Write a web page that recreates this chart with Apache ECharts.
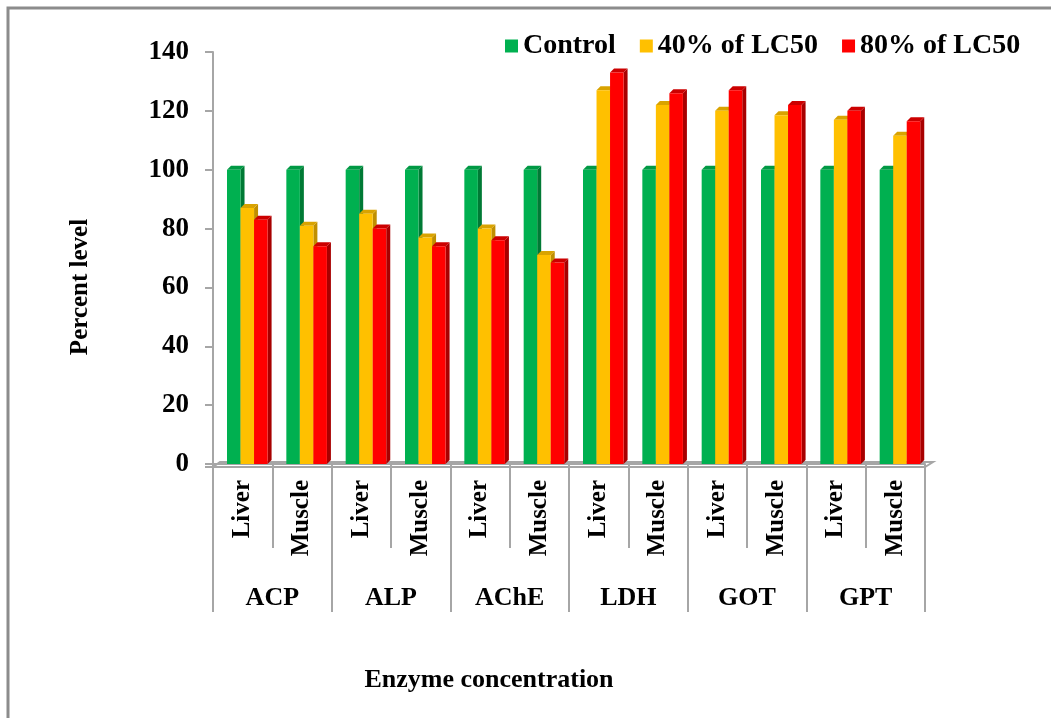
<!DOCTYPE html>
<html>
<head>
<meta charset="utf-8">
<script src="https://cdn.jsdelivr.net/npm/echarts@6/dist/echarts.min.js"></script>
<style>
html,body{margin:0;padding:0;background:#fff;}
#chart{width:1051px;height:718px;}
</style>
</head>
<body>
<div id="chart"></div>
<script>
const categories = ['Liver','Muscle','Liver','Muscle','Liver','Muscle','Liver','Muscle','Liver','Muscle','Liver','Muscle'];
const groups = ['ACP','ALP','AChE','LDH','GOT','GPT'];
const seriesNames = ['Control','40% of LC50','80% of LC50'];
const controlValues = [100,100,100,100,100,100,100,100,100,100,100,100];
const lc40Values = [87,81,85,77,80,71,127,122,120,118.5,117,111.5];
const lc80Values = [83,74,80,74,76,68.5,133,126,127,122,120,116.5];
const yMin = 0, yMax = 140, yStep = 20;

const FONT = 'Liberation Serif';
const palette = [
  {front:'#00B050', side:'#007A35', top:'#009944'},
  {front:'#FFC000', side:'#C08F00', top:'#D9A300'},
  {front:'#FF0000', side:'#A80000', top:'#CC0000'}
];

function makeRender(s){
  const c = palette[s];
  return function(params, api){
    const idx = api.value(0), val = api.value(1);
    const top = api.coord([idx, val]);
    const base = api.coord([idx, 0]);
    const bw = api.size([1, 0])[0];
    const w = bw * 0.228;
    const d = 4;
    const x0 = top[0] - bw / 2 + bw * 0.236 + s * w;
    const yT = top[1], yB = base[1];
    return {
      type: 'group',
      children: [
        {type:'polygon', shape:{points:[[x0+w,yT],[x0+w+d,yT-d],[x0+w+d,yB-d],[x0+w,yB]]}, style:{fill:c.side}},
        {type:'polygon', shape:{points:[[x0,yT],[x0+d,yT-d],[x0+w+d,yT-d],[x0+w,yT]]}, style:{fill:c.top}},
        {type:'rect', shape:{x:x0, y:yT, width:w, height:yB-yT}, style:{fill:c.front}}
      ]
    };
  };
}

const dataSets = [controlValues, lc40Values, lc80Values];
const barSeries = dataSets.map((arr, s) => ({
  name: seriesNames[s],
  type: 'custom',
  xAxisIndex: 0,
  yAxisIndex: 0,
  itemStyle: {color: palette[s].front},
  encode: {x: 0, y: 1},
  data: arr.map((v, i) => [i, v]),
  renderItem: makeRender(s),
  z: 3
}));

const floorSeries = {
  type: 'custom',
  xAxisIndex: 0,
  yAxisIndex: 0,
  silent: true,
  z: 1,
  data: [[0, 0]],
  renderItem: function(params, api){
    const cs = params.coordSys;
    const yb = cs.y + cs.height;
    const x = cs.x, w = cs.width;
    return {
      type: 'polygon',
      shape: {points: [[x-8, yb+3], [x, yb+3], [x+7, yb-2], [x+w+8, yb-2], [x+w, yb+3], [x, yb+3]]},
      style: {fill: 'none', stroke: '#A6A6A6', lineWidth: 2}
    };
  }
};

const chart = echarts.init(document.getElementById('chart'));
chart.setOption({
  backgroundColor: '#fff',
  animation: false,
  legend: {
    data: seriesNames,
    left: 500,
    top: 27,
    icon: 'rect',
    itemWidth: 13,
    itemHeight: 13,
    itemGap: 24,
    textStyle: {fontFamily: FONT, fontWeight: 'bold', fontSize: 28, color: '#000'}
  },
  grid: {left: 213, right: 126, top: 52, bottom: 254, containLabel: false},
  xAxis: [
    {
      type: 'category',
      data: categories,
      position: 'bottom',
      axisLine: {show: true, lineStyle: {color: '#A6A6A6', width: 2}},
      axisTick: {show: true, interval: 0, length: 84, lineStyle: {color: '#A6A6A6', width: 2}},
      axisLabel: {interval: 0, rotate: 90, margin: 16, fontFamily: FONT, fontWeight: 'bold', fontSize: 25, color: '#000'},
      splitLine: {show: false}
    },
    {
      type: 'category',
      data: groups,
      position: 'bottom',
      offset: 0,
      axisLine: {show: false},
      axisTick: {show: true, interval: 0, length: 148, lineStyle: {color: '#A6A6A6', width: 2}},
      axisLabel: {interval: 0, margin: 121, fontFamily: FONT, fontWeight: 'bold', fontSize: 26, color: '#000'},
      splitLine: {show: false}
    }
  ],
  yAxis: {
    type: 'value',
    min: yMin,
    max: yMax,
    interval: yStep,
    axisLine: {show: true, lineStyle: {color: '#A6A6A6', width: 2}},
    axisTick: {show: true, inside: false, length: 8, lineStyle: {color: '#A6A6A6', width: 2}},
    axisLabel: {margin: 24, fontFamily: FONT, fontWeight: 'bold', fontSize: 27, color: '#000'},
    splitLine: {show: false}
  },
  graphic: [
    {type: 'polyline', shape: {points: [[8, 718], [8, 8], [1051, 8]]}, style: {fill: 'none', stroke: '#8C8C8C', lineWidth: 3}, silent: true},
    {type: 'text', x: 81, y: 287, rotation: Math.PI / 2, style: {text: 'Percent level', fontFamily: FONT, fontWeight: 'bold', fontSize: 25, fill: '#000', textAlign: 'center', textVerticalAlign: 'middle'}},
    {type: 'text', x: 489, y: 680, style: {text: 'Enzyme concentration', fontFamily: FONT, fontWeight: 'bold', fontSize: 26, fill: '#000', textAlign: 'center', textVerticalAlign: 'middle'}}
  ],
  series: [floorSeries].concat(barSeries)
});
</script>
</body>
</html>
